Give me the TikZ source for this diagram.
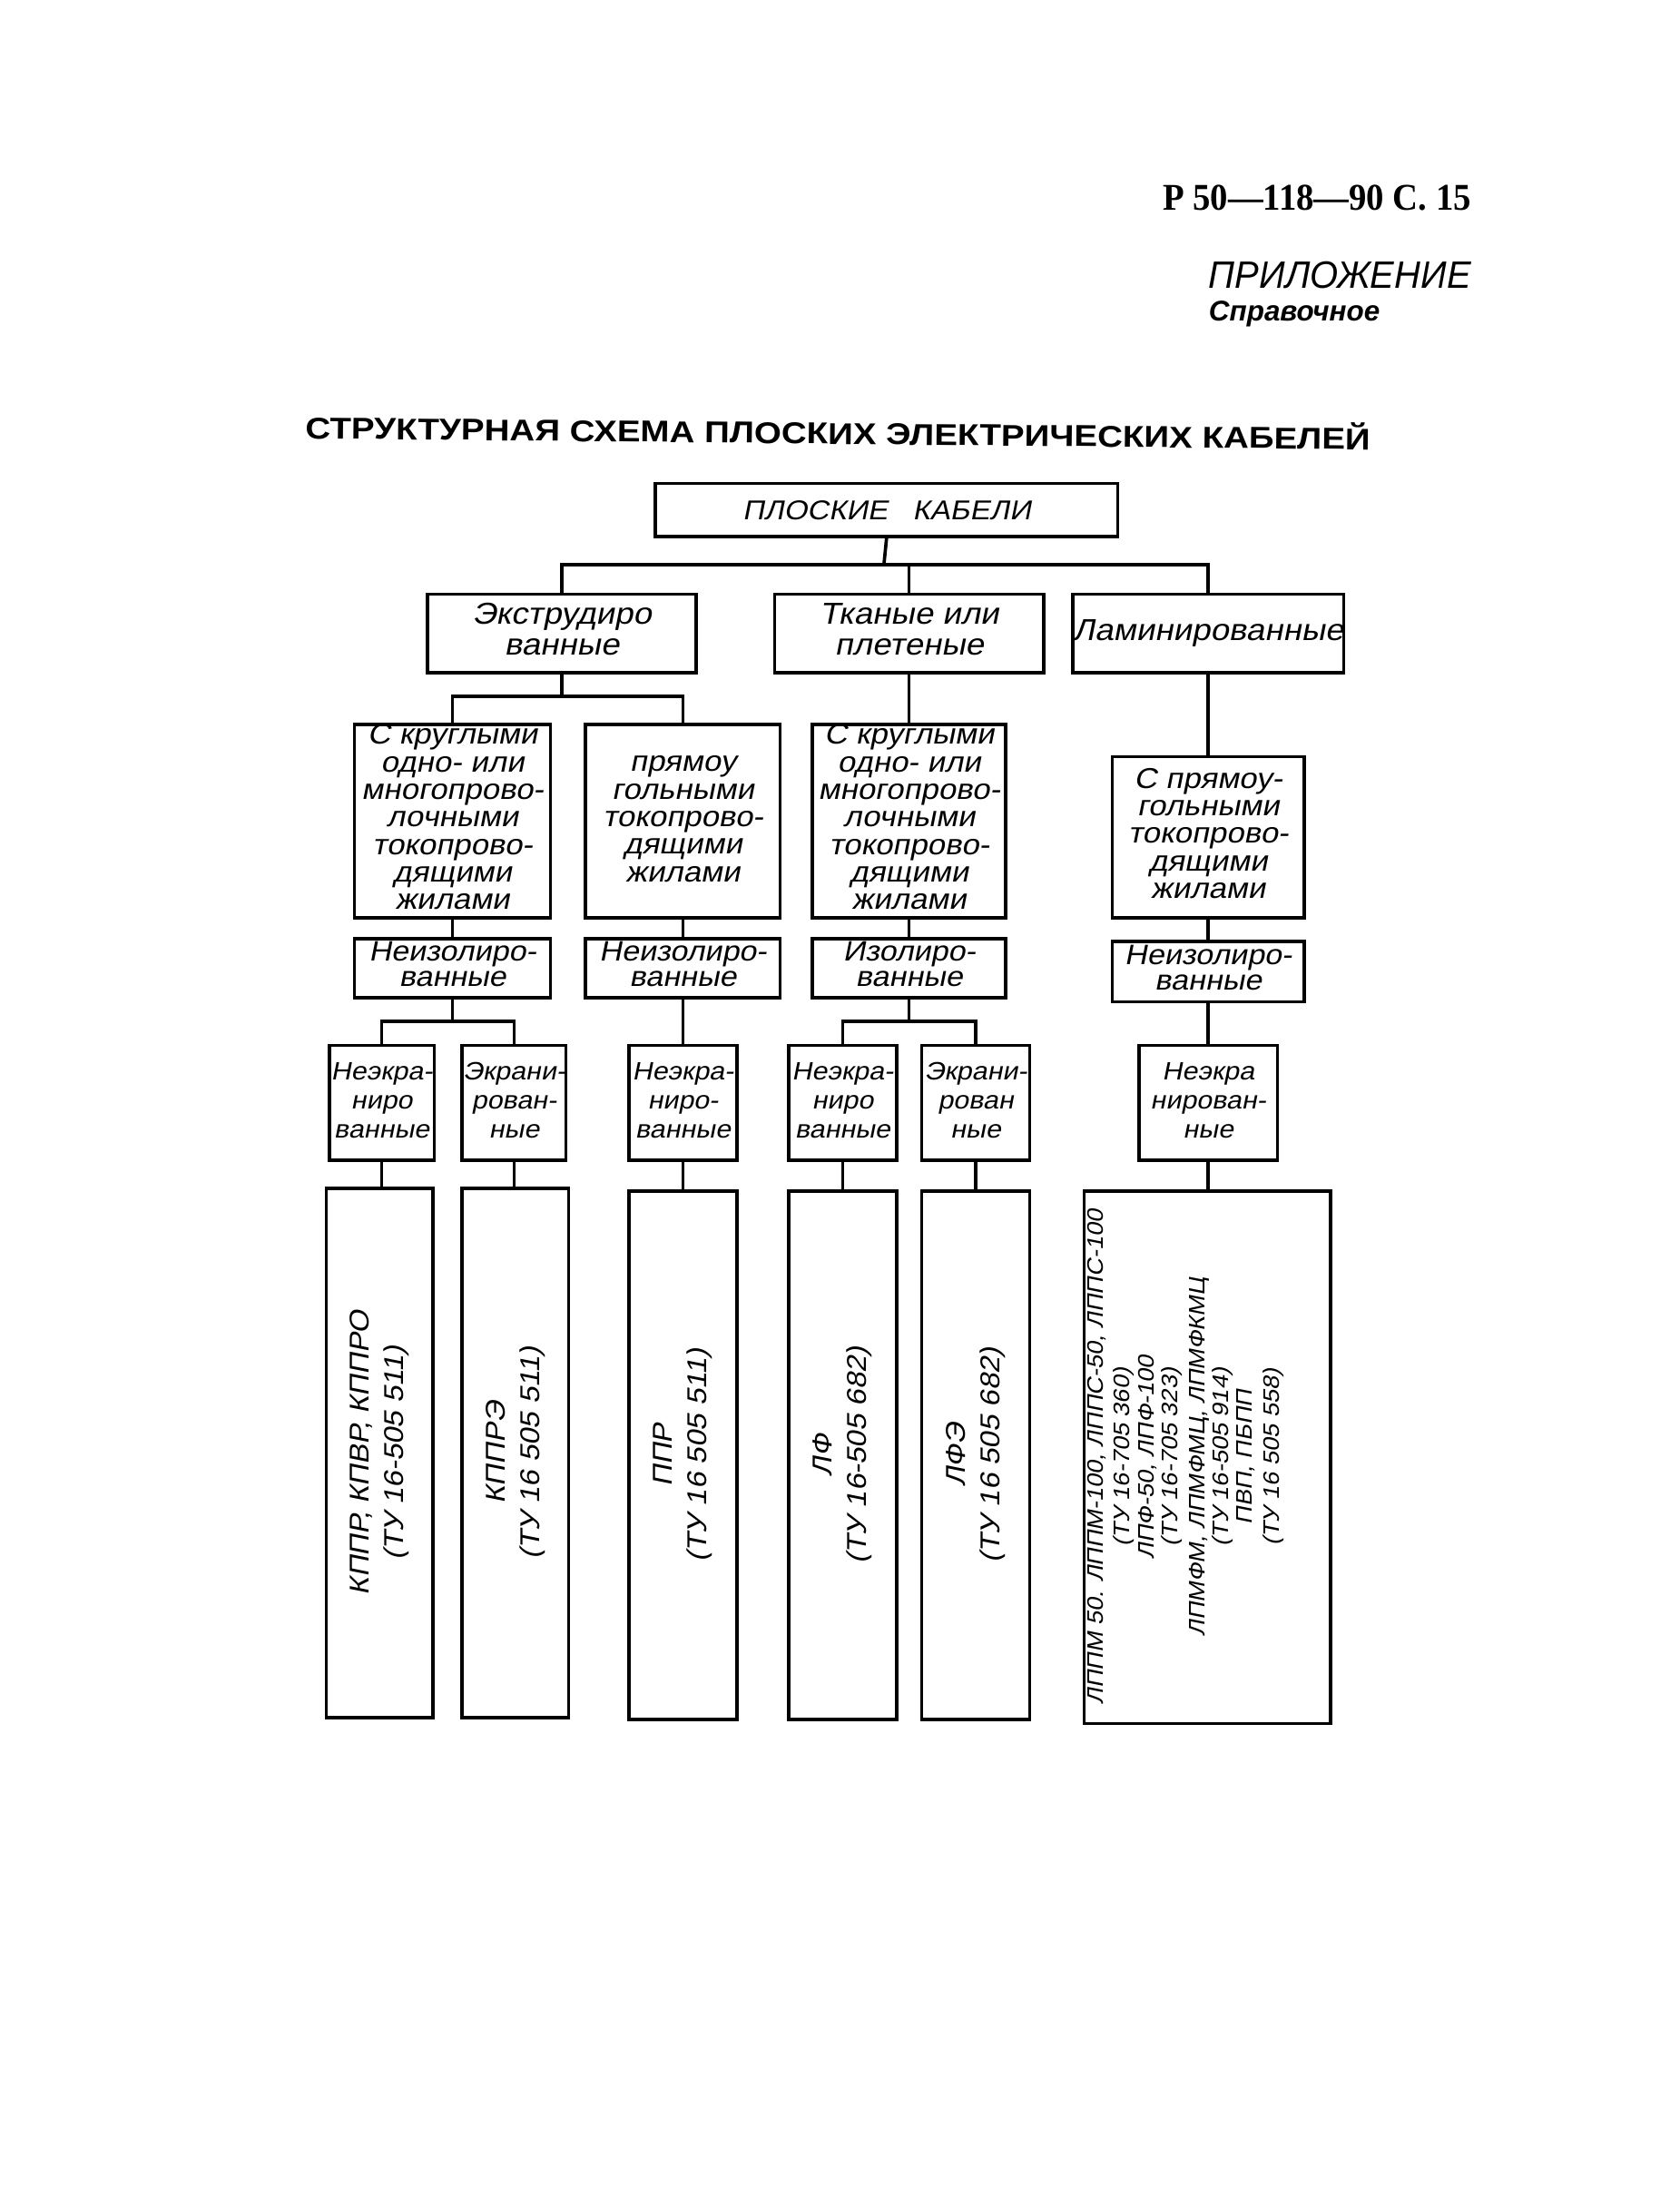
\documentclass[tikz,border=0pt]{standalone}
\usepackage{fontspec}
\setmainfont{Liberation Serif}
\setsansfont{Liberation Sans}
\newfontfamily\gost[FakeSlant=0.2,FakeStretch=1.1]{Liberation Sans}
\newfontfamily\titlefont{Liberation Sans}
\newcommand\lines[1]{\begin{tabular}{@{}c@{}}#1\end{tabular}}
\newcommand\bx[7][]{\node[box,#1,minimum width={(#5-#3)*0.463pt},minimum height={(#6-#4)*0.463pt}] (#2) at ({(#3+#5)/2},{(#4+#6)/2}) {#7};}
\tikzset{
  box/.style={draw,line width=1.1pt,inner sep=0pt,outer sep=0pt,align=center,font=\gost\fontsize{9.5}{9.2}\selectfont},
  ftwo/.style={font=\gost\fontsize{10}{10.2}\selectfont},
  fthree/.style={font=\gost\fontsize{9.5}{9.1}\selectfont},
  ffour/.style={font=\gost\fontsize{9.3}{8.4}\selectfont},
  ffive/.style={font=\gost\fontsize{8.3}{9.6}\selectfont},
  fsix/.style={font=\gost\fontsize{9}{11.4}\selectfont},
  fseven/.style={font=\gost\fontsize{7.4}{7.9}\selectfont},
  link/.style={line width=1.1pt},
  plain/.style={inner sep=0pt,outer sep=0pt}
}
\begin{document}
\begin{tikzpicture}[x=0.463pt,y=-0.463pt]
\fill[white] (0,0) rectangle (1199,1568);
\useasboundingbox (0,0) rectangle (1199,1568);

% header texts
\node[plain,anchor=base west] (hdr) at (830,150) {\resizebox{102pt}{8.3pt}{\bfseries Р 50—118—90 С. 15}};
\node[plain,anchor=base west] (app) at (863,206) {\resizebox{86.6pt}{8.8pt}{\sffamily\itshape ПРИЛОЖЕНИЕ}};
\node[plain,anchor=base west] (ref) at (863,229) {\resizebox{56.5pt}{!}{\sffamily\bfseries\itshape Справочное}};
\node[plain,anchor=base west,rotate=-0.6] (title) at (218,313) {\resizebox{352pt}{9pt}{\titlefont\bfseries СТРУКТУРНАЯ СХЕМА ПЛОСКИХ ЭЛЕКТРИЧЕСКИХ КАБЕЛЕЙ}};

% level 1
\bx[font=\gost\fontsize{9}{9}\selectfont]{top}{468}{345}{798}{383}{ПЛОСКИЕ\ \ \ КАБЕЛИ}
% level 2
\bx[ftwo]{ext}{305}{424}{497}{480}{\lines{Экструдиро\\ванные}}
\bx[ftwo]{tk}{553}{424}{745}{480}{\lines{Тканые или\\плетеные}}
\bx[ftwo]{lam}{767}{424}{958}{480}{Ламинированные}
% level 3
\bx[fthree]{ka}{253}{517}{393}{655}{\lines{С круглыми\\одно- или\\многопрово-\\лочными\\токопрово-\\дящими\\жилами}}
\bx[fthree]{pb}{418}{517}{557}{655}{\lines{прямоу\\гольными\\токопрово-\\дящими\\жилами}}
\bx[fthree]{kc}{580}{517}{718}{655}{\lines{С круглыми\\одно- или\\многопрово-\\лочными\\токопрово-\\дящими\\жилами}}
\bx[fthree]{pd}{794}{540}{931}{655}{\lines{С прямоу-\\гольными\\токопрово-\\дящими\\жилами}}
% level 4
\bx[ffour]{ia}{253}{670}{393}{712}{\lines{Неизолиро-\\ванные}}
\bx[ffour]{ib}{418}{670}{557}{712}{\lines{Неизолиро-\\ванные}}
\bx[ffour]{ic}{580}{670}{718}{712}{\lines{Изолиро-\\ванные}}
\bx[ffour]{id}{794}{672}{931}{715}{\lines{Неизолиро-\\ванные}}
% level 5
\bx[ffive]{ea1}{235}{746}{310}{828}{\raisebox{3pt}{\lines{Неэкра-\\ниро\\ванные}}}
\bx[ffive]{ea2}{330}{746}{404}{828}{\raisebox{3pt}{\lines{Экрани-\\рован-\\ные}}}
\bx[ffive]{eb}{449}{746}{526}{828}{\raisebox{3pt}{\lines{Неэкра-\\ниро-\\ванные}}}
\bx[ffive]{ec1}{563}{746}{640}{828}{\raisebox{3pt}{\lines{Неэкра-\\ниро\\ванные}}}
\bx[ffive]{ec2}{658}{746}{735}{828}{\raisebox{3pt}{\lines{Экрани-\\рован\\ные}}}
\bx[ffive]{ed}{813}{746}{912}{828}{\raisebox{3pt}{\lines{Неэкра\\нирован-\\ные}}}
% level 6
\bx[fsix]{ma}{233}{848}{309}{1226}{\rotatebox{90}{\lines{КППР, КПВР, КППРО\\(ТУ 16-505 511)}}}
\bx[fsix]{mb}{330}{848}{406}{1226}{\rotatebox{90}{\lines{КППРЭ\\(ТУ 16 505 511)}}}
\bx[fsix]{mc}{449}{850}{526}{1227}{\rotatebox{90}{\lines{ППР\\(ТУ 16 505 511)}}}
\bx[fsix]{md}{563}{850}{640}{1227}{\rotatebox{90}{\lines{ЛФ\\(ТУ 16-505 682)}}}
\bx[fsix]{me}{658}{850}{735}{1227}{\rotatebox{90}{\lines{ЛФЭ\\(ТУ 16 505 682)}}}
\bx[fseven]{mf}{774}{850}{950}{1230}{\rotatebox{90}{\lines{ЛППМ 50. ЛППМ-100, ЛППС-50, ЛППС-100\\[1pt](ТУ 16-705 360)\\ЛПФ-50, ЛПФ-100\\(ТУ 16-705 323)\\[1pt]ЛПМФМ, ЛПМФМЦ, ЛПМФКМЦ\\(ТУ 16-505 914)\\ПВП, ПБПП\\[1pt](ТУ 16 505 558)\\[14pt]}}}

% connectors
\coordinate (b1) at (631,403);
\draw[link] (top.south) -- (b1);
\draw[link] (ext.north) |- (b1) -| (lam.north);
\draw[link] (tk.north) -- (tk.north |- b1);

\coordinate (b2) at (401,497);
\draw[link] (ext.south) -- (b2);
\draw[link] (ka.north) |- (b2) -| (pb.north);
\draw[link] (tk.south) -- (tk.south |- kc.north);
\draw[link] (lam.south) -- (lam.south |- pd.north);

\draw[link] (ka.south) -- (ka.south |- ia.north);
\draw[link] (pb.south) -- (pb.south |- ib.north);
\draw[link] (kc.south) -- (kc.south |- ic.north);
\draw[link] (pd.south) -- (pd.south |- id.north);

\coordinate (b3) at (323,729);
\draw[link] (ia.south) -- (b3);
\draw[link] (ea1.north) |- (b3) -| (ea2.north);
\draw[link] (ib.south) -- (ib.south |- eb.north);
\coordinate (b4) at (649,729);
\draw[link] (ic.south) -- (b4);
\draw[link] (ec1.north) |- (b4) -| (ec2.north);
\draw[link] (id.south) -- (id.south |- ed.north);

\draw[link] (ea1.south) -- (ea1.south |- ma.north);
\draw[link] (ea2.south) -- (ea2.south |- mb.north);
\draw[link] (eb.south) -- (eb.south |- mc.north);
\draw[link] (ec1.south) -- (ec1.south |- md.north);
\draw[link] (ec2.south) -- (ec2.south |- me.north);
\draw[link] (ed.south) -- (ed.south |- mf.north);
\end{tikzpicture}
\end{document}
